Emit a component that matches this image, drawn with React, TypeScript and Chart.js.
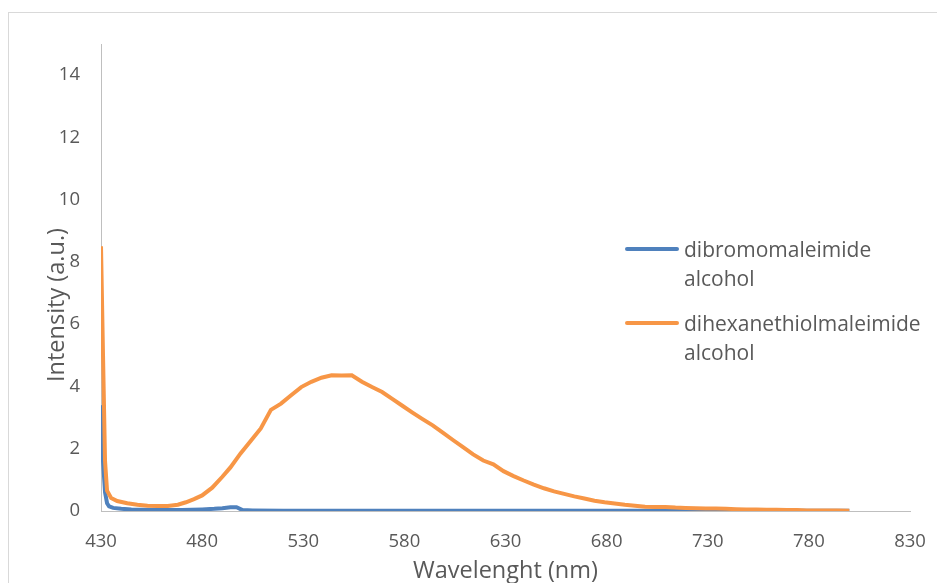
import React, { useEffect, useRef } from 'react';
import { Chart, registerables } from 'chart.js';

Chart.register(...registerables);

// ---- data ----
const xTickValues = [430, 480, 530, 580, 630, 680, 730, 780, 830];
const yTickValues = [0, 2, 4, 6, 8, 10, 12, 14];
const xAxisTitle = 'Wavelenght (nm)';
const yAxisTitle = 'Intensity (a.u.)';
const seriesNames = ['dibromomaleimide alcohol', 'dihexanethiolmaleimide alcohol'];

const blueWavelengths = [430, 431, 432, 433, 434, 436, 440, 445, 450, 460, 470, 480, 486, 490, 494, 497, 500, 505, 520, 540, 560, 580, 600, 620, 640, 660, 680, 700, 720, 740, 760, 780, 800];
const blueIntensity = [3.4, 1.6, 0.6, 0.25, 0.15, 0.1, 0.07, 0.05, 0.04, 0.03, 0.03, 0.05, 0.07, 0.09, 0.12, 0.12, 0.03, 0.02, 0.01, 0.01, 0.01, 0.01, 0.01, 0.01, 0.01, 0.01, 0.01, 0.01, 0.01, 0.01, 0.01, 0.01, 0.01];

const orangeWavelengths = [430, 431, 432, 433, 435, 438, 443, 448, 453, 458, 463, 468, 472, 476, 480, 485, 490, 494, 499, 504, 509, 514, 519, 524, 529, 534, 539, 544, 549, 554, 559, 564, 569, 574, 579, 584, 589, 594, 599, 604, 609, 614, 619, 624, 629, 634, 639, 644, 649, 654, 659, 664, 669, 674, 679, 684, 689, 694, 699, 704, 709, 714, 719, 724, 729, 734, 739, 744, 749, 754, 759, 764, 769, 774, 779, 784, 789, 794, 800];
const orangeIntensity = [8.5, 5.0, 1.6, 0.65, 0.42, 0.32, 0.25, 0.2, 0.17, 0.16, 0.16, 0.2, 0.28, 0.38, 0.5, 0.75, 1.1, 1.4, 1.85, 2.25, 2.65, 3.25, 3.45, 3.72, 3.98, 4.15, 4.28, 4.36, 4.35, 4.36, 4.15, 3.98, 3.82, 3.6, 3.38, 3.16, 2.95, 2.75, 2.52, 2.28, 2.05, 1.82, 1.62, 1.5, 1.28, 1.12, 0.98, 0.85, 0.73, 0.63, 0.55, 0.47, 0.4, 0.33, 0.28, 0.24, 0.2, 0.17, 0.14, 0.13, 0.13, 0.11, 0.1, 0.09, 0.08, 0.08, 0.07, 0.06, 0.05, 0.05, 0.04, 0.04, 0.03, 0.03, 0.02, 0.02, 0.02, 0.02, 0.01];

// ---- styles ----
const BLUE = '#4F81BD';
const ORANGE = '#F79646';
const TEXT = '#595959';
const AXIS = '#BFBFBF';
const FONT = '"Open Sans"';

const toPoints = (xs: number[], ys: number[]) => xs.map((x, i) => ({ x, y: ys[i] }));

const wrapLabel = (s: string) => {
  const i = s.lastIndexOf(' ');
  return i > 0 ? [s.slice(0, i), s.slice(i + 1)] : [s];
};

const decorPlugin = {
  id: 'excelDecor',
  afterDraw(chart: any) {
    const { ctx, chartArea } = chart;
    ctx.save();
    ctx.fillStyle = TEXT;
    ctx.font = `23.5px ${FONT}`;
    ctx.textAlign = 'center';
    ctx.textBaseline = 'middle';
    ctx.fillText(xAxisTitle, (chartArea.left + chartArea.right) / 2, 571);
    ctx.save();
    ctx.translate(57, 305);
    ctx.rotate(-Math.PI / 2);
    ctx.fillText(yAxisTitle, 0, 0);
    ctx.restore();

    // legend
    const colors = [BLUE, ORANGE];
    const sampleY = [249, 323];
    ctx.font = `21px ${FONT}`;
    ctx.textAlign = 'left';
    ctx.textBaseline = 'alphabetic';
    seriesNames.forEach((name, i) => {
      ctx.strokeStyle = colors[i];
      ctx.lineWidth = 4;
      ctx.lineCap = 'round';
      ctx.beginPath();
      ctx.moveTo(627, sampleY[i]);
      ctx.lineTo(677, sampleY[i]);
      ctx.stroke();
      const lines = wrapLabel(name);
      lines.forEach((ln, j) => {
        ctx.fillText(ln, 684, sampleY[i] + 8 + j * 28.5);
      });
    });
    ctx.restore();
  },
};

export default function App() {
  const ref = useRef<HTMLCanvasElement | null>(null);

  useEffect(() => {
    if (!ref.current) return;
    const chart = new Chart(ref.current, {
      type: 'line',
      data: {
        datasets: [
          {
            label: seriesNames[0],
            data: toPoints(blueWavelengths, blueIntensity),
            borderColor: BLUE,
            backgroundColor: BLUE,
            borderWidth: 4,
            pointRadius: 0,
            tension: 0,
            order: 2,
          },
          {
            label: seriesNames[1],
            data: toPoints(orangeWavelengths, orangeIntensity),
            borderColor: ORANGE,
            backgroundColor: ORANGE,
            borderWidth: 4,
            pointRadius: 0,
            tension: 0,
            order: 1,
          },
        ],
      },
      options: {
        animation: false,
        responsive: false,
        devicePixelRatio: 1,
        layout: { padding: { left: 8, top: 44, right: 27, bottom: 0 } },
        plugins: { legend: { display: false }, tooltip: { enabled: false }, title: { display: false } },
        scales: {
          x: {
            type: 'linear',
            min: 430,
            max: 830,
            afterBuildTicks: (scale: any) => {
              scale.ticks = xTickValues.map((v) => ({ value: v }));
            },
            afterFit: (scale: any) => {
              scale.height = 72;
              scale.paddingLeft = 0;
              scale.paddingRight = 0;
            },
            grid: { display: false, drawTicks: false },
            border: { display: true, color: AXIS, width: 1 },
            ticks: { color: TEXT, font: { family: FONT, size: 18.5 }, padding: 20, maxRotation: 0, autoSkip: false },
          },
          y: {
            type: 'linear',
            min: 0,
            max: 15,
            afterBuildTicks: (scale: any) => {
              scale.ticks = yTickValues.map((v) => ({ value: v }));
            },
            afterFit: (scale: any) => {
              scale.width = 93;
              scale.paddingTop = 0;
              scale.paddingBottom = 0;
            },
            grid: { display: false, drawTicks: false },
            border: { display: true, color: AXIS, width: 1 },
            ticks: { color: TEXT, font: { family: FONT, size: 18.5 }, padding: 21 },
          },
        },
      },
      plugins: [decorPlugin],
    });
    return () => chart.destroy();
  }, []);

  return (
    <div style={{ position: 'fixed', left: 0, top: 0, width: 937, height: 583, overflow: 'hidden', background: '#fff' }}>
      <div style={{ position: 'absolute', left: 8, top: 12, width: 1000, height: 1000, border: '1px solid #D9D9D9' }} />
      <canvas ref={ref} width={937} height={583} style={{ position: 'absolute', left: 0, top: 0, width: 937, height: 583 }} />
    </div>
  );
}
